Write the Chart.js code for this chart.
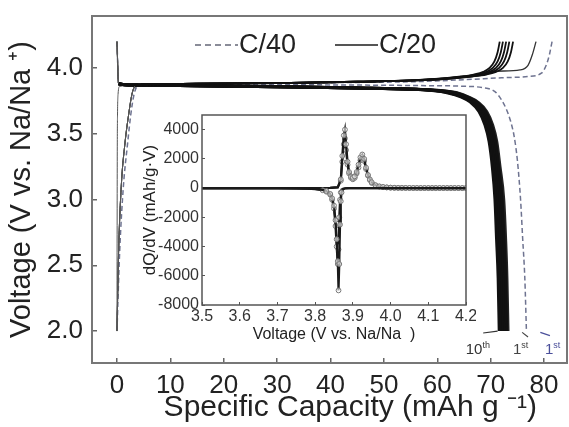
<!DOCTYPE html>
<html>
<head>
<meta charset="utf-8">
<script src="https://cdn.jsdelivr.net/npm/chart.js@4.4.0/dist/chart.umd.min.js"></script>
<style>
  html, body { margin: 0; padding: 0; background: #fff; }
  #wrap { position: relative; width: 569px; height: 427px; }
  #main { position: absolute; left: 0; top: 0; }
  #inset { position: absolute; left: 135px; top: 108px; }
</style>
</head>
<body>
<div id="wrap">
  <canvas id="main" width="569" height="427"></canvas>
  <canvas id="inset" width="341" height="247"></canvas>
</div>
<script>
const FONT = 'Liberation Sans, Arial, Helvetica, sans-serif';

// main plot tick labels
const capTicks = [0, 10, 20, 30, 40, 50, 60, 70, 80];
const voltTicks = [2.0, 2.5, 3.0, 3.5, 4.0];
const legendLabels = ['C/40', 'C/20'];

// discharge curves (C/20), shared voltage steps, capacity per cycle
const disV = [4.20, 3.88, 3.870, 3.865, 3.857, 3.848, 3.838, 3.828, 3.810, 3.780, 3.740, 3.670, 3.570, 3.440, 3.250, 3.000, 2.700, 2.400, 2.000];
const disCap10 = [0, 0.3, 3, 15, 30, 45, 55.0, 59.0, 62.0, 64.4, 66.2, 67.8, 68.9, 69.7, 70.3, 70.8, 71.1, 71.4, 71.6];
const disCap8  = [0, 0.3, 3, 15, 30, 45, 55.3, 59.4, 62.4, 64.7, 66.5, 68.1, 69.2, 70.0, 70.6, 71.1, 71.45, 71.75, 71.95];
const disCap6  = [0, 0.3, 3, 15, 30, 45, 55.6, 59.8, 62.8, 65.0, 66.8, 68.4, 69.5, 70.3, 70.9, 71.45, 71.8, 72.1, 72.3];
const disCap4  = [0, 0.3, 3, 15, 30, 45, 55.9, 60.2, 63.2, 65.3, 67.1, 68.7, 69.8, 70.6, 71.2, 71.8, 72.15, 72.45, 72.65];
const disCap2  = [0, 0.3, 3, 15, 30, 45, 56.2, 60.6, 63.6, 65.6, 67.4, 69.0, 70.1, 70.9, 71.5, 72.15, 72.5, 72.8, 73.0];
const disCap1  = [0, 0.3, 3, 15, 30, 45, 56.5, 61.0, 64.0, 65.9, 67.7, 69.3, 70.4, 71.2, 71.8, 72.5, 72.85, 73.1, 73.3];

// charge curves (C/20)
const chV = [2.00, 2.60, 3.10, 3.43, 3.65, 3.80, 3.86, 3.875, 3.880, 3.885, 3.895, 3.905, 3.920, 3.935, 3.950, 3.970, 4.000, 4.050, 4.120, 4.200];
const chCap10 = [0, 0.3, 0.8, 1.5, 2.2, 2.8, 3.4, 5.5, 15, 30, 45, 55.0, 61.0, 64.5, 66.8, 68.6, 69.8, 70.7, 71.3, 71.7];
const chCap8  = [0, 0.3, 0.8, 1.5, 2.2, 2.8, 3.4, 5.5, 15, 30, 45, 55.3, 61.4, 65.0, 67.4, 69.2, 70.4, 71.3, 71.9, 72.3];
const chCap6  = [0, 0.3, 0.8, 1.5, 2.2, 2.8, 3.4, 5.5, 15, 30, 45, 55.6, 61.8, 65.5, 68.0, 69.8, 71.0, 71.9, 72.5, 72.9];
const chCap4  = [0, 0.3, 0.8, 1.5, 2.2, 2.8, 3.4, 5.5, 15, 30, 45, 55.9, 62.2, 66.0, 68.6, 70.4, 71.6, 72.5, 73.1, 73.5];
const chCap2  = [0, 0.3, 0.8, 1.5, 2.2, 2.8, 3.4, 5.5, 15, 30, 45, 56.2, 62.6, 66.5, 69.2, 71.0, 72.3, 73.2, 73.8, 74.2];
const chV1    = [2.00, 2.60, 3.10, 3.43, 3.65, 3.80, 3.86, 3.875, 3.880, 3.885, 3.895, 3.905, 3.920, 3.935, 3.955, 3.975, 3.985, 4.020, 4.100, 4.200];
const chCap1  = [0, 0.02, 0.04, 0.06, 0.1, 0.2, 0.5, 5.5, 15, 30, 45, 55, 61, 65, 68, 71, 75.5, 77.0, 77.8, 78.5];

// C/40 first cycle (dashed)
const disV40   = [4.20, 3.885, 3.880, 3.877, 3.873, 3.870, 3.866, 3.862, 3.850, 3.820, 3.760, 3.680, 3.600, 3.480, 3.300, 3.000, 2.700, 2.400, 2.000];
const disCap40 = [0, 0.3, 3, 15, 30, 45, 57, 64, 68.5, 70.8, 72.0, 73.0, 73.7, 74.4, 75.0, 75.6, 76.0, 76.4, 76.7];
const chV40    = [2.00, 2.60, 3.10, 3.43, 3.65, 3.80, 3.86, 3.875, 3.880, 3.885, 3.890, 3.895, 3.905, 3.915, 3.925, 3.935, 3.960, 4.020, 4.100, 4.200];
const chCap40  = [0, 0.5, 1.2, 2.0, 2.6, 3.2, 3.8, 6, 15, 30, 45, 55, 62, 67, 72, 77, 79.5, 80.4, 81.0, 81.5];

// inset dQ/dV
const dqTicksX = [3.5, 3.6, 3.7, 3.8, 3.9, 4.0, 4.1, 4.2];
const dqTicksY = [-8000, -6000, -4000, -2000, 0, 2000, 4000];
const dqChV = [3.50, 3.60, 3.70, 3.80, 3.84, 3.86, 3.868, 3.872, 3.876, 3.879, 3.882, 3.886, 3.890, 3.895, 3.900, 3.905, 3.910, 3.915, 3.920, 3.925, 3.930, 3.935, 3.940, 3.945, 3.950, 3.960, 3.970, 3.980, 3.990, 4.000, 4.010, 4.020, 4.030, 4.040, 4.050, 4.060, 4.070, 4.080, 4.090, 4.100, 4.110, 4.120, 4.130, 4.140, 4.150, 4.160, 4.170, 4.180, 4.190, 4.200];
const dqChA = [0, 0, 0, 0, 10, 60, 600, 2200, 3600, 4000, 3000, 1800, 1100, 800, 700, 800, 1100, 1600, 2100, 2300, 2000, 1400, 900, 600, 400, 200, 120, 80, 50, 30, 20, 15, 10, 10, 5, 5, 5, 0, 0, 0, 0, 0, 0, 0, 0, 0, 0, 0, 0, 0];
const dqChB = [0, 0, 0, 0, 10, 50, 500, 1800, 3000, 3400, 2600, 1600, 1000, 700, 600, 700, 1000, 1400, 1900, 2100, 1850, 1300, 850, 550, 350, 180, 100, 60, 40, 25, 15, 10, 10, 5, 5, 0, 0, 0, 0, 0, 0, 0, 0, 0, 0, 0, 0, 0, 0, 0];
const dqDisV = [3.50, 3.55, 3.60, 3.65, 3.70, 3.75, 3.78, 3.80, 3.82, 3.83, 3.84, 3.845, 3.850, 3.854, 3.857, 3.860, 3.862, 3.864, 3.866, 3.868, 3.870, 3.875, 3.880, 3.890, 3.900, 3.950, 4.000, 4.050, 4.100, 4.150, 4.200];
const dqDisA = [0, 0, 0, 0, -10, -20, -40, -60, -120, -200, -400, -700, -1200, -2200, -3500, -5000, -7000, -5200, -2500, -900, -300, -80, -20, 0, 0, 0, 0, 0, 0, 0, 0];
const dqDisB = [0, 0, 0, 0, -10, -20, -40, -70, -150, -250, -450, -800, -1400, -2600, -4000, -5200, -4200, -2000, -800, -300, -100, -30, -10, 0, 0, 0, 0, 0, 0, 0, 0];

const pts = (xs, ys) => xs.map((x, i) => ({x: x, y: ys[i]}));

// thinUntil: segments before this index are drawn thin and grey
function curve(label, xs, ys, color, width, dash, thinUntil) {
  const thin = thinUntil || 0;
  return {
    label: label,
    data: pts(xs, ys),
    borderColor: color,
    borderWidth: width,
    borderDash: dash || [],
    pointRadius: 0,
    fill: false,
    cubicInterpolationMode: 'monotone',
    segment: {
      borderWidth: c => (c.p0DataIndex < thin ? 1 : undefined),
      borderColor: c => (c.p0DataIndex < thin ? '#555' : undefined)
    }
  };
}

const DASH40 = '#6e7390';
const datasets = [
  curve('c2', chCap2, chV, '#111', 1.8, null, 6),
  curve('c4', chCap4, chV, '#111', 1.8, null, 6),
  curve('c6', chCap6, chV, '#111', 1.8, null, 6),
  curve('c8', chCap8, chV, '#111', 1.8, null, 6),
  curve('c10', chCap10, chV, '#111', 1.8, null, 6),
  curve('d2', disCap2, disV, '#111', 3, null, 1),
  curve('d4', disCap4, disV, '#111', 3, null, 1),
  curve('d6', disCap6, disV, '#111', 3, null, 1),
  curve('d8', disCap8, disV, '#111', 3, null, 1),
  curve('d10', disCap10, disV, '#111', 3, null, 1),
  curve('C/20 dis 1', disCap1, disV, '#222', 2.5, null, 1),
  curve('C/20', chCap1, chV1, '#333', 1.3, null, 7),
  curve('C/40 dis', disCap40, disV40, DASH40, 1.5, [5, 3]),
  curve('C/40', chCap40, chV40, DASH40, 1.5, [5, 3])
];

// frame around the plot area
const framePlugin = {
  id: 'frame',
  afterDraw(chart, args, opts) {
    const {ctx, chartArea: a} = chart;
    ctx.save();
    ctx.strokeStyle = opts.color || '#777';
    ctx.lineWidth = opts.width || 2;
    ctx.strokeRect(a.left, a.top, a.right - a.left, a.bottom - a.top);
    ctx.restore();
  }
};

// legend inside the frame + cycle notes
const notesPlugin = {
  id: 'notes',
  afterDatasetsDraw(chart) {
    const {ctx} = chart;
    const xs = chart.scales.x, ys = chart.scales.y;
    ctx.save();
    const items = [
      {label: legendLabels[0], color: '#8a8c98', dash: [6, 4], x0: 195},
      {label: legendLabels[1], color: '#555', dash: [], x0: 335}
    ];
    items.forEach(it => {
      ctx.strokeStyle = it.color;
      ctx.lineWidth = 2;
      ctx.setLineDash(it.dash);
      ctx.beginPath();
      ctx.moveTo(it.x0, 45);
      ctx.lineTo(it.x0 + 43, 45);
      ctx.stroke();
      ctx.setLineDash([]);
      ctx.fillStyle = '#222';
      ctx.font = '27px ' + FONT;
      ctx.textBaseline = 'middle';
      ctx.fillText(it.label, it.x0 + 44, 46);
    });
    const notes = [
      {main: '10', sup: 'th', x: 67.6, y: 1.86, color: '#333', ax: [68.6, 1.985, 71.3, 2.0]},
      {main: '1', sup: 'st', x: 75.6, y: 1.86, color: '#444', ax: [75.9, 1.99, 77.0, 1.955]},
      {main: '1', sup: 'st', x: 81.6, y: 1.86, color: '#4a4f9a', ax: [79.3, 1.99, 81.1, 1.965]}
    ];
    notes.forEach(n => {
      const px = xs.getPixelForValue(n.x), py = ys.getPixelForValue(n.y);
      ctx.fillStyle = n.color;
      ctx.textBaseline = 'middle';
      ctx.font = '15px ' + FONT;
      const w = ctx.measureText(n.main).width;
      ctx.font = '9px ' + FONT;
      const ws = ctx.measureText(n.sup).width;
      const left = px - (w + ws) / 2;
      ctx.font = '15px ' + FONT;
      ctx.fillText(n.main, left, py);
      ctx.font = '9px ' + FONT;
      ctx.fillText(n.sup, left + w, py - 4);
      ctx.strokeStyle = n.color;
      ctx.lineWidth = 1.2;
      ctx.beginPath();
      ctx.moveTo(xs.getPixelForValue(n.ax[0]), ys.getPixelForValue(n.ax[1]));
      ctx.lineTo(xs.getPixelForValue(n.ax[2]), ys.getPixelForValue(n.ax[3]));
      ctx.stroke();
    });
    ctx.restore();
  }
};

const noPad = s => { s.paddingTop = 0; s.paddingBottom = 0; s.paddingLeft = 0; s.paddingRight = 0; };

new Chart(document.getElementById('main'), {
  type: 'line',
  data: {datasets: datasets},
  options: {
    responsive: false,
    animation: false,
    parsing: false,
    layout: {padding: {top: 16, right: 2, left: 0, bottom: 0}},
    plugins: {legend: {display: false}, tooltip: {enabled: false}, frame: {color: '#777', width: 2}},
    scales: {
      x: {
        type: 'linear',
        min: -4.68,
        max: 84.3,
        afterBuildTicks: s => { s.ticks = capTicks.map(v => ({value: v})); },
        afterFit: s => { s.height = 64; noPad(s); },
        border: {display: false},
        grid: {drawOnChartArea: false, drawTicks: true, tickLength: -5, color: '#666', lineWidth: 1.5},
        ticks: {padding: 12, color: '#222', autoSkip: false, maxRotation: 0, font: {family: FONT, size: 26}},
        title: {display: true, text: '     Specific Capacity (mAh g ⁻¹)', color: '#222', font: {family: FONT, size: 30}, padding: {top: 0, bottom: 1}}
      },
      y: {
        type: 'linear',
        min: 1.757,
        max: 4.395,
        afterBuildTicks: s => { s.ticks = voltTicks.map(v => ({value: v})); },
        afterFit: s => { s.width = 92; noPad(s); },
        border: {display: false},
        grid: {drawOnChartArea: false, drawTicks: true, tickLength: -5, color: '#666', lineWidth: 1.5},
        ticks: {padding: 14, color: '#222', font: {family: FONT, size: 26}, callback: v => v.toFixed(1)},
        title: {display: true, text: 'Voltage (V vs. Na/Na ⁺)', color: '#222', font: {family: FONT, size: 29}, padding: {top: 5, bottom: 0}}
      }
    }
  },
  plugins: [framePlugin, notesPlugin]
});

// inset
const whiteArea = {
  id: 'whiteArea',
  beforeDraw(chart) {
    const {ctx, chartArea: a} = chart;
    ctx.save();
    ctx.fillStyle = '#fff';
    ctx.fillRect(a.left, a.top, a.right - a.left, a.bottom - a.top);
    ctx.restore();
  }
};

// markers only where the curve leaves the baseline (charge: right of 3.86 V)
function dqSet(label, xs, ys, charge) {
  return {
    label: label,
    data: pts(xs, ys),
    borderColor: '#1a1a1a',
    borderWidth: 2.2,
    pointRadius: c => {
      const p = c.raw;
      if (!p) return 0;
      if (charge) return p.x >= 3.866 ? 2.4 : 0;
      return p.y <= -150 ? 2.4 : 0;
    },
    pointBorderColor: '#777',
    pointBackgroundColor: 'rgba(255,255,255,0.6)',
    pointBorderWidth: 1,
    fill: false,
    tension: 0
  };
}

new Chart(document.getElementById('inset'), {
  type: 'line',
  data: {
    datasets: [
      dqSet('dis A', dqDisV, dqDisA, false),
      dqSet('dis B', dqDisV, dqDisB, false),
      dqSet('ch A', dqChV, dqChA, true),
      dqSet('ch B', dqChV, dqChB, true)
    ]
  },
  options: {
    responsive: false,
    animation: false,
    parsing: false,
    layout: {padding: {top: 7, right: 10, left: 0, bottom: 0}},
    plugins: {legend: {display: false}, tooltip: {enabled: false}, frame: {color: '#555', width: 1.5}},
    scales: {
      x: {
        type: 'linear',
        min: 3.5,
        max: 4.2,
        afterBuildTicks: s => { s.ticks = dqTicksX.map(v => ({value: v})); },
        afterFit: s => { s.height = 50; noPad(s); },
        border: {display: false},
        grid: {drawOnChartArea: false, drawTicks: true, tickLength: -3, color: '#555', lineWidth: 1},
        ticks: {padding: 5, color: '#333', autoSkip: false, maxRotation: 0, font: {family: FONT, size: 16}, callback: v => v.toFixed(1)},
        title: {display: true, text: 'Voltage (V vs. Na/Na  )', color: '#222', font: {family: FONT, size: 16}, padding: {top: 0, bottom: 11}}
      },
      y: {
        type: 'linear',
        min: -8000,
        max: 5000,
        afterBuildTicks: s => { s.ticks = dqTicksY.map(v => ({value: v})); },
        afterFit: s => { s.width = 67; noPad(s); },
        border: {display: false},
        grid: {drawOnChartArea: false, drawTicks: true, tickLength: -3, color: '#555', lineWidth: 1},
        ticks: {padding: 6, color: '#333', font: {family: FONT, size: 16}, callback: v => String(v)},
        title: {display: true, text: 'dQ/dV (mAh/g·V)', color: '#222', font: {family: FONT, size: 17}, padding: {top: 5, bottom: 0}}
      }
    }
  },
  plugins: [whiteArea, framePlugin]
});
</script>
</body>
</html>
